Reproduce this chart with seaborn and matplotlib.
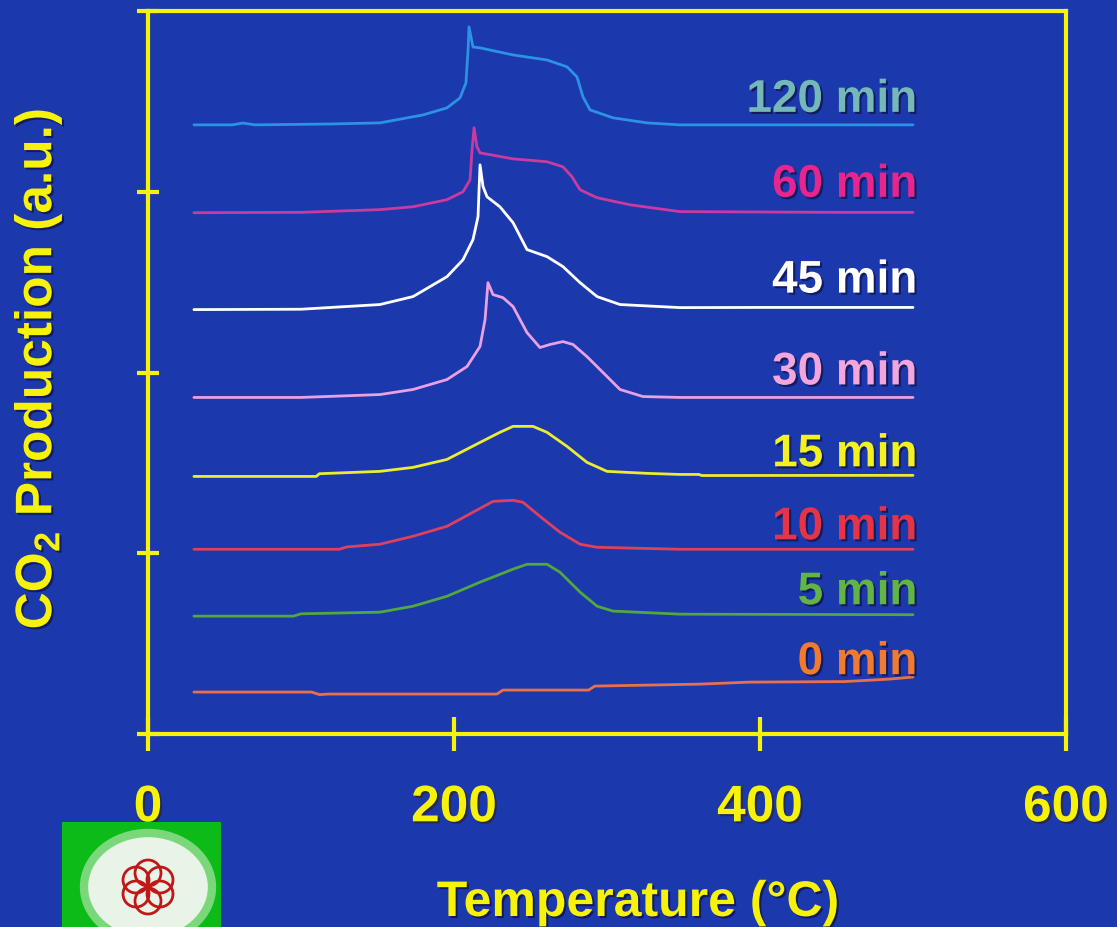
import matplotlib
matplotlib.use("Agg")
import matplotlib.pyplot as plt
import matplotlib.patheffects as pe
from matplotlib.patches import Rectangle, Ellipse, Circle
import seaborn as sns
import pandas as pd

# ---------------- data ----------------
series_names = ["0 min", "5 min", "10 min", "15 min", "30 min", "45 min", "60 min", "120 min"]

T_0 = [30, 107, 112, 118, 228, 232, 288, 292, 361, 393, 455, 485, 500]
S_0 = [0.232, 0.232, 0.218, 0.221, 0.221, 0.243, 0.243, 0.265, 0.276, 0.287, 0.290, 0.304, 0.315]

T_5 = [30, 95, 100, 151.6, 173.2, 195.4, 217, 238.6, 247.7, 260.8, 269.3, 282.4, 293.5, 303.9, 347.7, 500]
S_5 = [0.652, 0.652, 0.665, 0.674, 0.707, 0.762, 0.840, 0.912, 0.939, 0.939, 0.895, 0.785, 0.707, 0.680, 0.663, 0.660]

T_10 = [30, 125, 130, 151.6, 173.2, 195.4, 212.4, 225.5, 238.6, 245.1, 256.2, 269.3, 282.4, 293.5, 347.7, 500]
S_10 = [1.022, 1.022, 1.035, 1.050, 1.094, 1.149, 1.227, 1.287, 1.293, 1.282, 1.204, 1.116, 1.050, 1.033, 1.022, 1.022]

T_15 = [30, 110, 112, 151.6, 173.2, 195.4, 217, 230, 238.6, 251.6, 260.8, 273.9, 286.9, 300, 326.1, 347.7, 360, 362, 500]
S_15 = [1.425, 1.425, 1.440, 1.453, 1.475, 1.519, 1.613, 1.669, 1.702, 1.702, 1.669, 1.591, 1.503, 1.453, 1.442, 1.436, 1.436, 1.430, 1.431]

T_30 = [30, 100, 151.6, 173.2, 195.4, 208.5, 217, 220.3, 222.2, 225.5, 232, 238.6, 247.7, 256.2, 262.7, 271.2, 277.8, 286.9, 300, 308.5, 323.5, 347.7, 400, 500]
S_30 = [1.862, 1.862, 1.878, 1.906, 1.961, 2.033, 2.144, 2.293, 2.497, 2.431, 2.414, 2.365, 2.221, 2.138, 2.155, 2.171, 2.155, 2.088, 1.978, 1.906, 1.867, 1.862, 1.862, 1.862]

T_45 = [30, 100, 151.6, 173.2, 195.4, 205.9, 212.4, 215.7, 217, 219, 221.6, 230, 238.6, 247.7, 260.8, 271.2, 282.4, 293.5, 308.5, 347.7, 400, 500]
S_45 = [2.348, 2.350, 2.376, 2.420, 2.530, 2.624, 2.735, 2.862, 3.149, 3.028, 2.972, 2.917, 2.829, 2.680, 2.641, 2.586, 2.497, 2.420, 2.376, 2.359, 2.360, 2.360]

T_60 = [30, 100, 151.6, 173.2, 195.4, 205.9, 210.5, 211.8, 213.1, 215, 217, 238.6, 260.8, 271.2, 277.1, 282.4, 293.5, 315, 347.7, 400, 450, 500]
S_60 = [2.884, 2.886, 2.901, 2.917, 2.956, 3.000, 3.066, 3.232, 3.354, 3.249, 3.215, 3.182, 3.166, 3.138, 3.083, 3.011, 2.967, 2.928, 2.890, 2.888, 2.886, 2.886]

T_120 = [30, 55, 62, 70, 120, 151.6, 179.7, 195.4, 203.9, 207.8, 209.2, 209.8, 212.4, 217, 238.6, 260.8, 273.9, 280.4, 284.3, 288.9, 303.9, 326.1, 347.7, 400, 450, 500]
S_120 = [3.370, 3.370, 3.380, 3.370, 3.375, 3.381, 3.425, 3.464, 3.519, 3.602, 3.785, 3.912, 3.801, 3.796, 3.757, 3.729, 3.691, 3.635, 3.525, 3.453, 3.409, 3.381, 3.370, 3.370, 3.370, 3.370]

label_y = [0.331, 0.718, 1.077, 1.481, 1.934, 2.442, 2.972, 3.442]
x_ticks = [0, 200, 400, 600]

line_colors = ["#e8704a", "#52a83e", "#e0405e", "#ecec30", "#eaa0e4", "#ffffff", "#cc3aa0", "#2c92e4"]
text_colors = ["#f07a30", "#62b444", "#e43446", "#f4f21e", "#f2a6dc", "#ffffff", "#e4268e", "#74b8b8"]

# ---------------- build table ----------------
all_T = [T_0, T_5, T_10, T_15, T_30, T_45, T_60, T_120]
all_S = [S_0, S_5, S_10, S_15, S_30, S_45, S_60, S_120]
frames = []
for name, t, s in zip(series_names, all_T, all_S):
    frames.append(pd.DataFrame({"Temperature": t, "Signal": s, "Series": name}))
df = pd.concat(frames, ignore_index=True)

BG = "#1b38ad"
YEL = "#f6f20a"

sns.set_theme(style="dark", rc={"axes.facecolor": BG, "figure.facecolor": BG})
plt.rcParams["font.family"] = ["Liberation Sans", "DejaVu Sans"]
plt.rcParams["mathtext.fontset"] = "custom"
plt.rcParams["mathtext.rm"] = "Liberation Sans:bold"
plt.rcParams["mathtext.it"] = "Liberation Sans:bold"
plt.rcParams["mathtext.bf"] = "Liberation Sans:bold"
plt.rcParams["mathtext.default"] = "rm"

fig = plt.figure(figsize=(11.17, 9.28), dpi=100)
fig.patch.set_facecolor(BG)
ax = fig.add_axes([148 / 1117, 1 - 735 / 928, (1066 - 148) / 1117, (735 - 12) / 928])
ax.set_facecolor(BG)

sns.lineplot(data=df, x="Temperature", y="Signal", hue="Series", hue_order=series_names,
             palette=dict(zip(series_names, line_colors)), sort=False, estimator=None,
             linewidth=2.0, legend=False, ax=ax)

ax.set_xlim(0, 600)
ax.set_ylim(0, 4)
ax.set_xticks(x_ticks)
ax.set_xticklabels([str(v) for v in x_ticks])
ax.set_yticks([0, 1, 2, 3, 4])
ax.set_yticklabels([])
ax.grid(False)

for sp in ax.spines.values():
    sp.set_visible(True)
    sp.set_color(YEL)
    sp.set_linewidth(3.0)

ax.tick_params(axis="x", direction="inout", length=25, width=3, color=YEL, pad=23,
               labelsize=37, labelcolor=YEL, bottom=True)
ax.tick_params(axis="y", direction="inout", length=16, width=3, color=YEL, left=True)
for lab in ax.get_xticklabels():
    lab.set_fontweight("bold")
    lab.set_path_effects([pe.withSimplePatchShadow(offset=(1.5, -1.5), shadow_rgbFace="#302010", alpha=0.6)])

ax.set_xlabel("")
ax.set_ylabel("")

# series labels
shadow = [pe.withSimplePatchShadow(offset=(1.5, -1.5), shadow_rgbFace="#101040", alpha=0.7)]
for name, yv, c in zip(series_names, label_y, text_colors):
    ax.text(503, yv, name, color=c, fontsize=33, fontweight="bold", ha="right",
            va="baseline", path_effects=shadow)

# axis titles
fig.text(638 / 1117, 1 - 917 / 928, "Temperature (°C)", color=YEL, fontsize=36,
         fontweight="bold", ha="center", va="baseline", path_effects=shadow)
fig.text(38 / 1117, 1 - 370 / 928, "CO$_2$ Production (a.u.)", color=YEL, fontsize=37,
         fontweight="bold", ha="center", va="center", rotation=90, path_effects=shadow)

# logo (decorative)
fig.patches.append(Rectangle((62 / 1117, 0), 159 / 1117, 105 / 928, transform=fig.transFigure,
                             facecolor="#0cba18", edgecolor="none", zorder=5))
fig.patches.append(Ellipse((148 / 1117, 1 - 888 / 928), 128 / 1117, 108 / 928,
                           transform=fig.transFigure, facecolor="#e8f4e8",
                           edgecolor="#7ad87a", linewidth=6, zorder=6))
for dx, dy in [(0, 14), (12, 7), (12, -7), (0, -14), (-12, -7), (-12, 7)]:
    fig.patches.append(Ellipse(((148 + dx) / 1117, 1 - (888 - dy) / 928), 26 / 1117, 26 / 928,
                               transform=fig.transFigure, facecolor="none",
                               edgecolor="#c01818", linewidth=2, zorder=7))

fig.savefig("out.png", dpi=100, facecolor=BG)
